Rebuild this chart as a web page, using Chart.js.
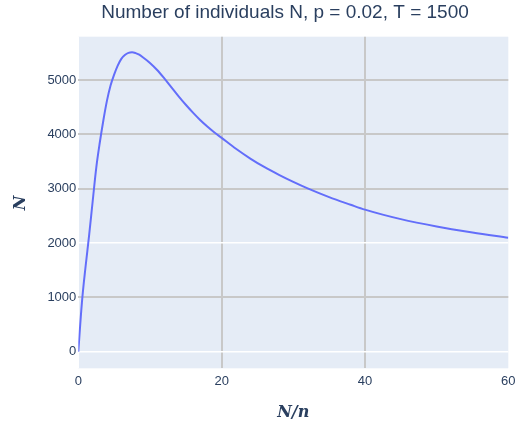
<!DOCTYPE html>
<html>
<head>
<meta charset="utf-8">
<script src="https://cdn.jsdelivr.net/npm/chart.js@4/dist/chart.umd.min.js"></script>
<style>
  html, body { margin: 0; padding: 0; background: #fff; }
  #wrap { width: 516px; height: 426px; position: relative; }
</style>
</head>
<body>
<div id="wrap"><canvas id="chart" width="516" height="426"></canvas></div>
<script>
// N/n values and the number of individuals N
const ratio = [0, 0.5, 1, 1.5, 2, 2.5, 3, 3.5, 4, 4.5, 5, 5.5, 6, 6.5, 7, 7.5, 8, 8.5, 9,
  10, 11, 12, 13, 14, 15, 16, 17, 18, 19, 20, 22, 24, 26, 28, 30, 32, 35, 38, 40, 45, 50, 55, 60];
const individuals = [0, 900, 1550, 2130, 2760, 3380, 3850, 4260, 4620, 4900, 5100, 5265, 5390, 5460, 5500, 5511, 5495, 5465, 5420,
  5315, 5185, 5030, 4865, 4700, 4545, 4400, 4265, 4145, 4035, 3935, 3735, 3555, 3395, 3255, 3125, 3005, 2845, 2705, 2615, 2440, 2305, 2195, 2098];

const xTicks = [0, 20, 40, 60];
const yTicks = [0, 1000, 2000, 3000, 4000, 5000];
const whiteY = [0, 2000];   // these grid lines come out white, the rest grey

const tickFont = { family: 'Liberation Sans, Arial, sans-serif', size: 13 };
const fontColor = '#2a3f5f';

const plotBg = {
    id: 'plotBg',
    beforeDraw(chart) {
        const { ctx, chartArea: a } = chart;
        ctx.save();
        ctx.fillStyle = '#e5ecf6';
        ctx.fillRect(a.left, a.top, a.right - a.left, a.bottom - a.top);
        ctx.restore();
    }
};

// title and the two math-style axis titles
const labels = {
    id: 'labels',
    afterDraw(chart) {
        const { ctx, chartArea: a } = chart;
        ctx.save();
        ctx.fillStyle = fontColor;
        ctx.textAlign = 'center';
        ctx.textBaseline = 'alphabetic';
        ctx.font = '19px Liberation Sans, Arial, sans-serif';
        ctx.fillText('Number of individuals N, p = 0.02, T = 1500', 285, 18);

        ctx.font = 'italic bold 16px DejaVu Serif, serif';
        ctx.fillText('N/n', (a.left + a.right) / 2, 417);

        ctx.translate(25, 203);
        ctx.rotate(-Math.PI / 2);
        ctx.fillText('N', 0, 0);
        ctx.restore();
    }
};

const noPad = s => { s.paddingLeft = 0; s.paddingRight = 0; s.paddingTop = 0; s.paddingBottom = 0; };

new Chart(document.getElementById('chart'), {
    type: 'line',
    data: {
        datasets: [{
            data: ratio.map((r, i) => ({ x: r, y: individuals[i] })),
            borderColor: '#636efa',
            borderWidth: 2,
            pointRadius: 0,
            fill: false,
            cubicInterpolationMode: 'monotone'
        }]
    },
    options: {
        responsive: false,
        animation: false,
        layout: { padding: { left: 0, right: 7.7, top: 36.7, bottom: 0 } },
        plugins: { legend: { display: false }, tooltip: { enabled: false } },
        scales: {
            x: {
                type: 'linear',
                min: 0,
                max: 60,
                afterFit: s => { s.height = 57.7; noPad(s); },
                afterBuildTicks: s => { s.ticks = xTicks.map(v => ({ value: v })); },
                border: { display: false },
                grid: {
                    drawTicks: false,
                    lineWidth: c => c.tick && c.tick.value === 0 ? 1 : 2,
                    color: c => {
                        if (!c.tick) return 'transparent';
                        if (c.tick.value === 0) return '#ffffff';
                        if (c.tick.value === 60) return 'transparent';
                        return '#c8c8c8';
                    }
                },
                ticks: { color: fontColor, font: tickFont, padding: 5, maxRotation: 0, callback: v => String(v) }
            },
            y: {
                min: -305,
                max: 5797,
                afterFit: s => { s.width = 78.3; noPad(s); },
                afterBuildTicks: s => { s.ticks = yTicks.map(v => ({ value: v })); },
                border: { display: false },
                grid: {
                    drawTicks: false,
                    lineWidth: c => c.tick && whiteY.includes(c.tick.value) ? 1.5 : 2,
                    color: c => c.tick && whiteY.includes(c.tick.value) ? '#ffffff' : '#c8c8c8'
                },
                ticks: { color: fontColor, font: tickFont, padding: 2, callback: v => String(v) }
            }
        }
    },
    plugins: [plotBg, labels]
});
</script>
</body>
</html>
